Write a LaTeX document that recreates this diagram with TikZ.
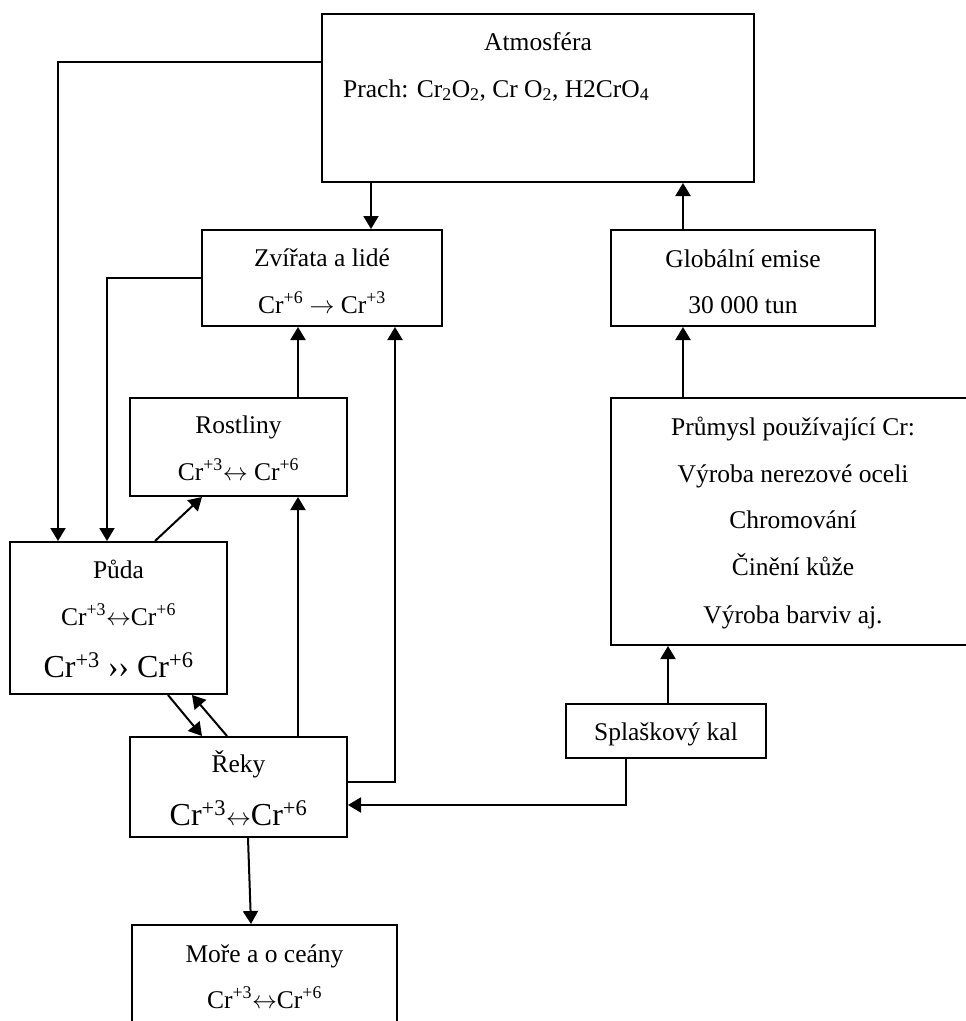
\documentclass[tikz,border=0pt]{standalone}
\usepackage{fontspec}
\setmainfont{Liberation Serif}
\usetikzlibrary{arrows.meta}
\newcommand{\rarr}{\ensuremath{\rightarrow}}
\newcommand{\lrarr}{\ensuremath{\leftrightarrow}}
\begin{document}
\begin{tikzpicture}[x=1pt,y=-1pt,
  box/.style={draw, line width=2pt, inner sep=0pt, fill=white},
  txt/.style={anchor=base, inner sep=0pt, font=\fontsize{25.5}{30}\selectfont},
  bigtxt/.style={anchor=base, inner sep=0pt, font=\fontsize{32}{38}\selectfont},
  arr/.style={line width=2pt, -{Triangle[length=13pt,width=15pt]}}
]
\useasboundingbox (0,0) rectangle (966,1021);
\clip (0,0) rectangle (966,1021);
% boxes
\node[box, minimum width=432pt, minimum height=168pt] (atm) at (538,98) {};
\node[box, minimum width=240pt, minimum height=96pt] (zvir) at (322,278) {};
\node[box, minimum width=217pt, minimum height=98pt] (rost) at (238.5,447) {};
\node[box, minimum width=217pt, minimum height=152pt] (puda) at (118.5,618) {};
\node[box, minimum width=217pt, minimum height=100pt] (reky) at (238.5,787) {};
\node[box, minimum width=265pt, minimum height=115pt] (more) at (264.5,982.5) {};
\node[box, minimum width=264pt, minimum height=96pt] (glob) at (743,278) {};
\node[box, minimum width=364pt, minimum height=247pt] (prum) at (793,521.5) {};
\node[box, minimum width=200pt, minimum height=54pt] (spl) at (666,731) {};
% texts
\node[txt] (t1) at (538,50) {Atmosféra};
\node[txt, anchor=base west] (t2) at (343,97) {Prach: Cr\textsubscript{2}O\textsubscript{2}, Cr O\textsubscript{2}, H2CrO\textsubscript{4}};
\node[txt] (t3) at (322,266) {Zvířata a lidé};
\node[txt] (t4) at (322,313) {Cr\textsuperscript{+6} \rarr{} Cr\textsuperscript{+3}};
\node[txt] (t5) at (238.5,433) {Rostliny};
\node[txt] (t6) at (238.5,480) {Cr\textsuperscript{+3}\lrarr{} Cr\textsuperscript{+6}};
\node[txt] (t7) at (118.5,578) {Půda};
\node[txt] (t8) at (118.5,625) {Cr\textsuperscript{+3}\lrarr{}Cr\textsuperscript{+6}};
\node[bigtxt] (t9) at (118.5,677) {Cr\textsuperscript{+3} ›› Cr\textsuperscript{+6}};
\node[txt] (t10) at (238.5,772) {Řeky};
\node[bigtxt] (t11) at (238.5,825) {Cr\textsuperscript{+3}\lrarr{}Cr\textsuperscript{+6}};
\node[txt] (t12) at (264.5,962) {Moře a o ceány};
\node[txt] (t13) at (264.5,1008) {Cr\textsuperscript{+3}\lrarr{}Cr\textsuperscript{+6}};
\node[txt] (t14) at (743,267) {Globální emise};
\node[txt] (t15) at (743,313) {30 000 tun};
\node[txt] (t16) at (793,435) {Průmysl používající Cr:};
\node[txt] (t17) at (793,482) {Výroba nerezové oceli};
\node[txt] (t18) at (793,528) {Chromování};
\node[txt] (t19) at (793,575) {Činění kůže};
\node[txt] (t20) at (793,623) {Výroba barviv aj.};
\node[txt] (t21) at (666,740) {Splaškový kal};
% helper coordinates
\coordinate (xa) at (371,0);
\coordinate (p1) at (58,62);
\coordinate (x107) at (107,0);
\coordinate (x298) at (298,0);
\coordinate (p6) at (395,782);
\coordinate (x155) at (155,0);
\coordinate (x202) at (202,0);
\coordinate (x168) at (168,0);
\coordinate (x227) at (227,0);
\coordinate (x192) at (192,0);
\coordinate (p10) at (626,805);
\coordinate (x248) at (248,0);
\coordinate (x251) at (251,0);
\coordinate (x668) at (668,0);
\coordinate (x683) at (683,0);
% connectors
\draw[arr] (xa |- atm.south) -- (xa |- zvir.north);
\draw[arr] (p1 -| atm.west) -| (p1 |- puda.north);
\draw[arr] (zvir.west) -| (x107 |- puda.north);
\draw[arr] (x298 |- rost.north) -- (x298 |- zvir.south);
\draw[arr] (x298 |- reky.north) -- (x298 |- rost.south);
\draw[arr] (p6 -| reky.east) -| (p6 |- zvir.south);
\draw[arr] (x155 |- puda.north) -- (x202 |- rost.south);
\draw[arr] (x168 |- puda.south) -- (x202 |- reky.north);
\draw[arr] (x227 |- reky.north) -- (x192 |- puda.south);
\draw[arr] (p10 |- spl.south) |- (p10 -| reky.east);
\draw[arr] (x248 |- reky.south) -- (x251 |- more.north);
\draw[arr] (x668 |- spl.north) -- (x668 |- prum.south);
\draw[arr] (x683 |- prum.north) -- (x683 |- glob.south);
\draw[arr] (x683 |- glob.north) -- (x683 |- atm.south);
\end{tikzpicture}
\end{document}
